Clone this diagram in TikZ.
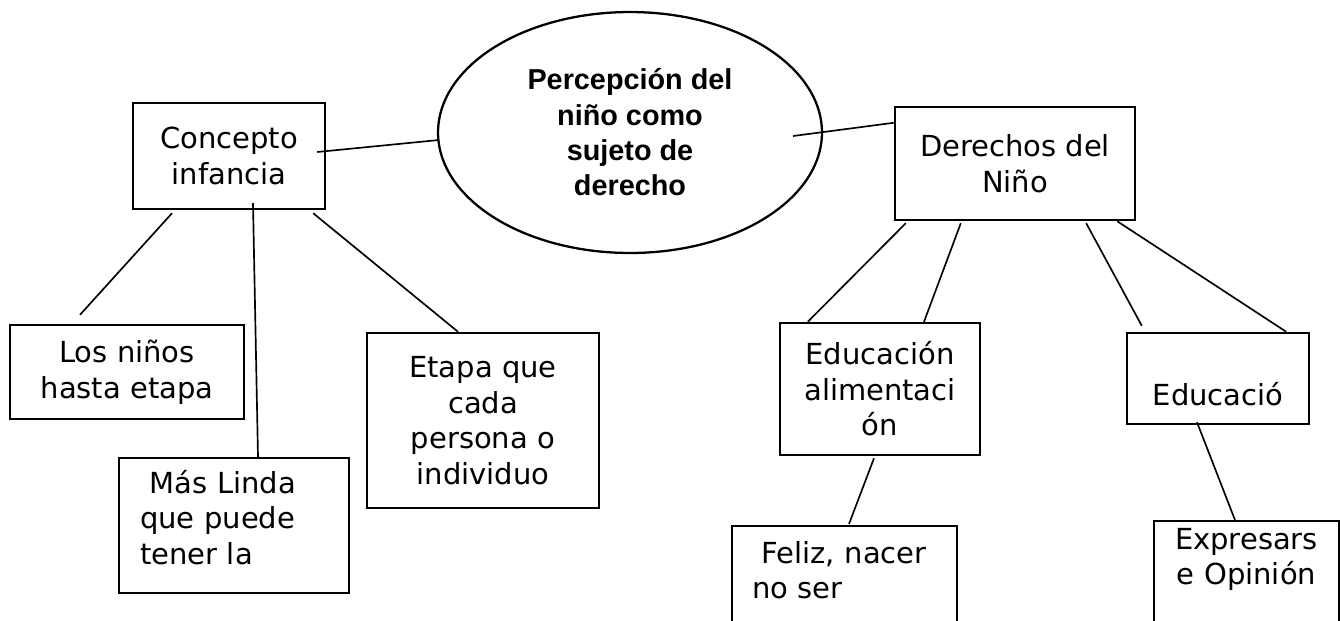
\documentclass[tikz,border=0pt]{standalone}
\usepackage{fontspec}
\setmainfont{DejaVu Sans}
\newfontfamily\ovalfont{Liberation Sans}
\usetikzlibrary{shapes.geometric,calc}
\tikzset{
  node-box/.style={draw=black,line width=1.4pt,rectangle,inner sep=0pt,
    align=center,font=\fontsize{16.5pt}{20.2pt}\selectfont},
  node-oval/.style={draw=black,line width=1.3pt,ellipse,inner sep=0pt,
    align=center,font=\ovalfont\bfseries\fontsize{16.4pt}{20.1pt}\selectfont},
  % cajas cuyo texto queda arriba (y el borde inferior se sale)
  node-open/.style={node-box,anchor=north,inner ysep=0pt,text depth=2cm},
  link/.style={draw=black,line width=0.95pt},
}

\begin{document}
\begin{tikzpicture}[x=0.02cm,y=-0.02cm]
  \useasboundingbox (0,0) rectangle (1340,620);
  \clip (0,0) rectangle (1340,620);
  \node[node-oval,minimum width=7.68cm,minimum height=4.82cm] (percepcion) at (630,132.5) {Percepción del\\niño como\\sujeto de\\derecho};
  \node[node-box,minimum width=3.84cm,minimum height=2.12cm] (concepto) at (229,156) {Concepto\\infancia};
  \node[node-box,minimum width=4.68cm,minimum height=1.88cm] (ninos) at (127,372) {Los niños\\hasta etapa};
  \node[node-open,align=left,text width=3.76cm,inner xsep=0.42cm,text height=0.7cm] (linda) at (234,457) {\ Más Linda\\que puede\\tener la};
  \node[node-box,minimum width=4.64cm,minimum height=3.5cm] (etapa) at (483,420.5) {Etapa que\\cada\\persona o\\individuo};
  \node[node-box,minimum width=4.8cm,minimum height=2.26cm] (derechos) at (1015,163.5) {Derechos del\\Niño};
  \node[node-box,minimum width=4cm,minimum height=2.64cm] (alim) at (880,389) {Educación\\alimentaci\\ón};
  \node[node-box,minimum width=3.64cm,minimum height=1.82cm,text height=1.06cm,text depth=0pt] (educ) at (1218,378.5) {Educació};
  \node[node-open,align=left,text width=3.7cm,inner xsep=0.4cm,text height=0.74cm] (feliz) at (844.5,525) {\ Feliz, nacer\\no ser};
  \node[node-open,text width=3.3cm,inner xsep=0.2cm,text height=0.56cm] (expr) at (1246.5,520) {Expresars\\e Opinión};

  \draw[link] ($(concepto.east)+(-9,-4)$) -- ($(percepcion.west)+(2,7.5)$);
  \draw[link] ($(percepcion.east)+(-30,3.5)$) -- ($(derechos.north west)+(0,17)$);
  \draw[link] ($(concepto.south)+(-57,3)$) -- ($(ninos.north)+(-47,-9)$);
  \draw[link] ($(concepto.south)+(24,-7)$) -- ($(linda.north)+(24,0)$);
  \draw[link] ($(concepto.south east)+(-13,3)$) -- ($(etapa.north)+(-25,0)$);
  \draw[link] ($(derechos.south west)+(12,2)$) -- ($(alim.north west)+(29,0)$);
  \draw[link] ($(derechos.south west)+(67,2)$) -- ($(alim.north)+(44,0)$);
  \draw[link] ($(derechos.south east)+(-50,2)$) -- ($(educ.north west)+(16,-6)$);
  \draw[link] ($(derechos.south east)+(-19,0)$) -- ($(educ.north east)+(-24,0)$);
  \draw[link] ($(alim.south)+(-6,2)$) -- ($(feliz.north)+(4.5,-1)$);
  \draw[link] ($(educ.south)+(-21,-3)$) -- ($(expr.north)+(-11.5,0)$);
\end{tikzpicture}
\end{document}
